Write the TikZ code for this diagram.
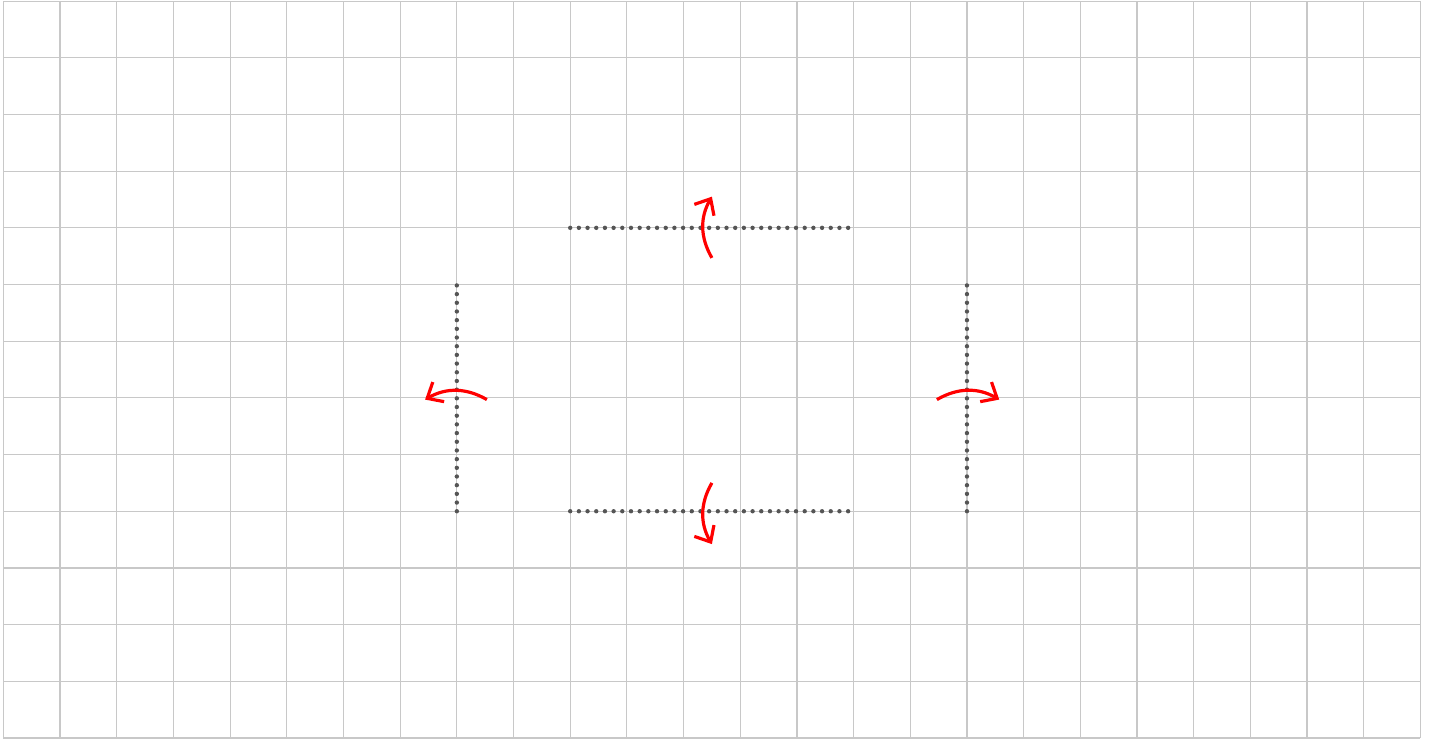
\documentclass[tikz,border=0pt]{standalone}
\usetikzlibrary{arrows.meta}
\definecolor{gridgray}{HTML}{C8C8C8}
\definecolor{dotgray}{HTML}{555555}
\tikzset{
  gridline/.style={draw=gridgray, line width=0.6pt},
  hinge/.style={draw=dotgray, line width=2.2pt, line cap=round, dash pattern=on 0pt off 4.36pt},
  swing/.style={draw=red, line width=1.6pt, -{Straight Barb[length=2.3mm,width=4mm,line width=1.6pt]}}
}
\begin{document}
\begin{tikzpicture}
\useasboundingbox (-0.06,-0.02) rectangle (25.17,13.02);
\draw[gridline] (0,0) grid (25,13);
% dotted edges
\coordinate (t1) at (10,9); \coordinate (t2) at (15,9);
\coordinate (b1) at (10,4); \coordinate (b2) at (15,4);
\coordinate (l1) at (8,4); \coordinate (l2) at (8,8);
\coordinate (r1) at (17,4); \coordinate (r2) at (17,8);
\draw[hinge] (t1) -- (t2);
\draw[hinge] (b1) -- (b2);
\draw[hinge] (l1) -- (l2);
\draw[hinge] (r1) -- (r2);
% arrows
\coordinate (ta) at (12.5,8.47); \coordinate (tb) at (12.5,9.55);
\coordinate (ba) at (12.5,4.5); \coordinate (bb) at (12.5,3.42);
\coordinate (la) at (8.53,5.97); \coordinate (lb) at (7.44,5.97);
\coordinate (ra) at (16.47,5.97); \coordinate (rb) at (17.57,5.97);
\draw[swing] (ta) to[bend left=30] (tb);
\draw[swing] (ba) to[bend right=30] (bb);
\draw[swing] (la) to[bend right=30] (lb);
\draw[swing] (ra) to[bend left=30] (rb);
\end{tikzpicture}
\end{document}
